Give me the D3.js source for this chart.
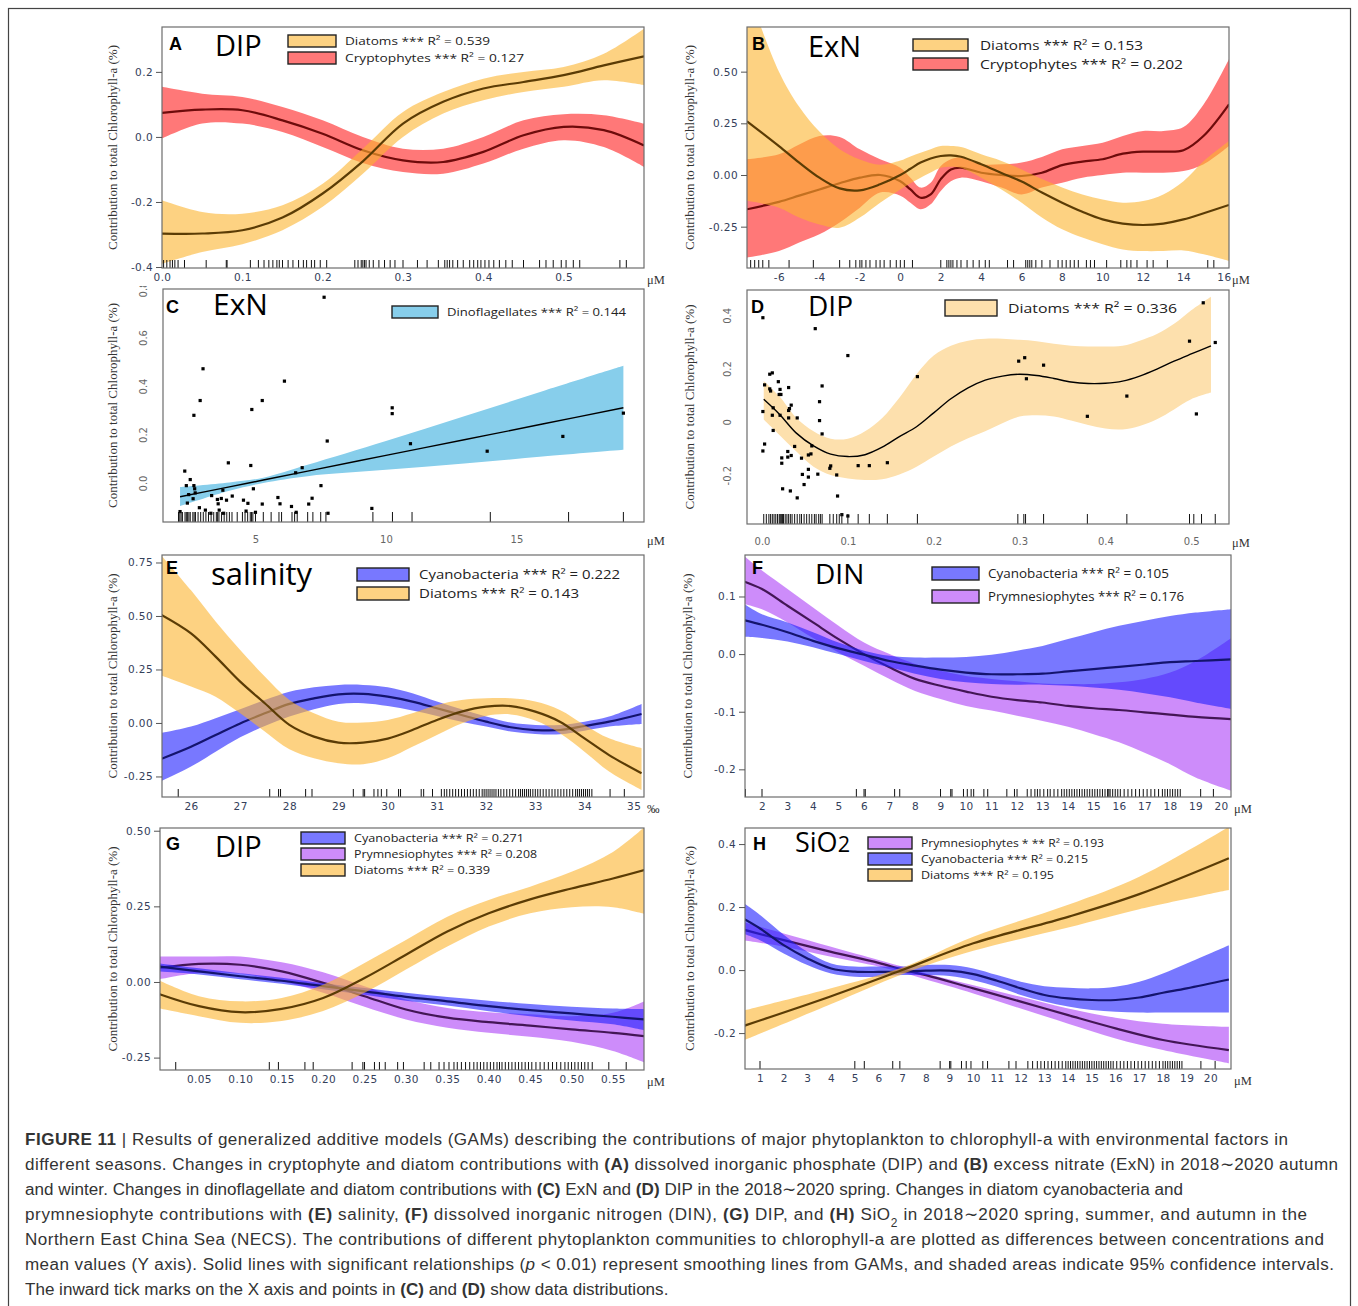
<!DOCTYPE html>
<html>
<head>
<meta charset="utf-8">
<script src="https://cdn.jsdelivr.net/npm/d3@7"></script>
<style>
  body { margin: 0; background: #fff; }
</style>
</head>
<body>
<svg id="fig" width="1358" height="1306"></svg>
<script>
// ---------------- data ----------------

// A : DIP, autumn + winter
var aX      = [0, 0.05, 0.1, 0.15, 0.2, 0.25, 0.3, 0.35, 0.4, 0.45, 0.5, 0.55, 0.6];
var aDiaFit = [-0.297,-0.297,-0.287,-0.248,-0.174,-0.075,0.041,0.108,0.149,0.169,0.19,0.22,0.248];
var aDiaHi  = [-0.195,-0.231,-0.236,-0.21,-0.144,-0.036,0.077,0.138,0.179,0.2,0.215,0.256,0.333];
var aDiaLo  = [-0.39,-0.354,-0.33,-0.287,-0.215,-0.113,0.0,0.072,0.113,0.138,0.154,0.174,0.159];
var aCryFit = [0.074,0.084,0.082,0.051,0.01,-0.041,-0.072,-0.077,-0.046,0.005,0.031,0.021,-0.026];
var aCryHi  = [0.154,0.133,0.123,0.092,0.051,0.0,-0.036,-0.036,0.0,0.051,0.07,0.067,0.041];
var aCryLo  = [-0.005,0.041,0.041,0.015,-0.031,-0.08,-0.108,-0.113,-0.082,-0.036,-0.01,-0.031,-0.092];
var aRug = [0.002,0.006,0.01,0.013,0.016,0.02,0.028,0.055,0.08,0.081,0.11,0.12,0.127,0.133,0.138,0.143,0.146,0.15,
  0.157,0.163,0.17,0.176,0.18,0.186,0.19,0.197,0.205,0.24,0.244,0.248,0.25,0.252,0.254,0.258,0.263,0.27,0.277,0.284,
  0.29,0.3,0.318,0.33,0.344,0.352,0.355,0.358,0.362,0.368,0.375,0.383,0.388,0.393,0.397,0.402,0.407,0.413,0.42,0.428,
  0.436,0.45,0.47,0.478,0.487,0.497,0.503,0.512,0.52,0.57,0.578];
var aLegend = ["Diatoms *** R\u00b2 = 0.539", "Cryptophytes ***  R\u00b2 = 0.127"];

// B : ExN, autumn + winter
var bX      = [-7.58,-6,-5,-4,-3,-2,-1,0,0.5,1,1.5,2,2.5,3,4,5,6,7,8,9,10,11,12,13,14,15,16.25];
var bDiaFit = [0.26,0.14,0.06,-0.013,-0.065,-0.074,-0.045,0.0,0.03,0.06,0.08,0.092,0.095,0.088,0.052,0.01,-0.032,-0.085,-0.134,-0.178,-0.215,-0.235,-0.242,-0.235,-0.215,-0.185,-0.145];
var bDiaHi  = [0.9,0.5,0.33,0.21,0.125,0.075,0.05,0.07,0.09,0.108,0.125,0.14,0.14,0.135,0.1,0.068,0.027,-0.02,-0.06,-0.094,-0.118,-0.134,-0.126,-0.094,-0.03,0.068,0.165];
var bDiaLo  = [-0.125,-0.158,-0.206,-0.24,-0.255,-0.206,-0.134,-0.07,-0.04,-0.013,0.012,0.035,0.04,0.035,-0.013,-0.07,-0.134,-0.206,-0.263,-0.303,-0.335,-0.36,-0.368,-0.368,-0.365,-0.384,-0.416];
var bCryFit = [-0.166,-0.13,-0.1,-0.07,-0.04,-0.013,0.0,-0.03,-0.07,-0.11,-0.094,-0.02,0.027,0.035,0.011,0.0,-0.005,0.011,0.048,0.065,0.076,0.103,0.113,0.113,0.12,0.19,0.342];
var bCryHi  = [0.076,0.1,0.148,0.189,0.184,0.124,0.076,0.035,-0.013,-0.061,-0.037,0.044,0.076,0.084,0.052,0.052,0.06,0.087,0.124,0.14,0.156,0.189,0.213,0.213,0.232,0.342,0.56];
var bCryLo  = [-0.4,-0.368,-0.327,-0.287,-0.23,-0.158,-0.085,-0.1,-0.134,-0.166,-0.142,-0.077,-0.03,-0.013,-0.03,-0.061,-0.094,-0.061,-0.037,-0.013,0.0,0.011,0.011,0.011,0.019,0.052,0.14];
var bRug = [-7.4,-7.2,-7.0,-6.8,-6.5,-5.5,-4.3,-3.0,-2.5,-2.2,-2.0,-1.9,-1.7,-1.5,-1.2,-1.0,-0.8,-0.5,-0.2,0.0,0.2,0.6,
  2.0,2.3,2.4,2.5,2.6,2.8,3.0,3.3,3.6,3.9,4.2,4.4,5.3,5.6,6.2,6.3,6.4,6.5,6.7,7.0,7.4,7.8,8.0,8.2,8.4,8.6,8.8,9.2,
  9.4,9.6,10.2,10.9,11.2,11.4,11.7,12.2,12.5,13.2,15.2,15.5];
var bLegend = ["Diatoms *** R\u00b2 = 0.153", "Cryptophytes ***  R\u00b2 = 0.202"];

// C : ExN, spring (linear fit + points)
var cX   = [2.11, 4, 5.3, 7, 10, 13, 16, 19.1];
var cFit = [-0.057,-0.016,0.012,0.049,0.114,0.178,0.243,0.31];
var cHi  = [-0.017,0.002,0.022,0.075,0.173,0.275,0.378,0.483];
var cLo  = [-0.095,-0.032,0.0,0.028,0.054,0.08,0.109,0.137];
var cPtX = [7.63,2.99,6.11,2.88,5.26,4.86,2.64,10.24,10.24,19.1,7.75,10.94,16.78,13.88,3.96,4.82,6.79,6.54,2.29,2.5,
  2.35,2.64,2.67,7.51,4.92,3.75,2.69,2.44,2.61,3.32,3.54,3.69,3.89,4.11,2.39,4.54,4.71,5.86,5.94,6.38,7.04,7.17,5.26,
  3.57,2.85,3.08,3.61,4.64,5.0,9.46,6.56,7.78,2.11,3.29,3.78];
var cPtY = [0.766,0.471,0.42,0.34,0.34,0.303,0.279,0.31,0.286,0.288,0.173,0.162,0.192,0.131,0.083,0.072,0.063,0.042,
  0.049,0.014,-0.011,-0.011,-0.024,-0.011,-0.024,-0.03,-0.041,-0.048,-0.065,-0.052,-0.068,-0.064,-0.071,-0.054,-0.083,
  -0.071,-0.084,-0.06,-0.086,-0.097,-0.087,-0.063,-0.087,-0.086,-0.102,-0.112,-0.112,-0.116,-0.121,-0.105,-0.121,
  -0.125,-0.118,-0.125,-0.125];
var cRug = [2.05,2.1,2.15,2.2,2.3,2.35,2.4,2.45,2.5,2.6,2.65,2.7,2.8,2.9,3.0,3.1,3.2,3.3,3.4,3.5,3.55,3.6,3.7,3.8,3.9,
  4.0,4.1,4.3,4.5,4.6,4.7,4.8,4.85,4.9,5.0,5.3,5.6,5.9,6.0,6.4,6.5,6.6,7.0,7.2,7.5,7.7,9.5,10.25,11.0,14.0,17.0,19.1];
var cLegend = ["Dinoflagellates *** R\u00b2 = 0.144"];

// D : DIP, spring (smooth + points)
var dX   = [0.002,0.02,0.04,0.06,0.08,0.1,0.12,0.14,0.16,0.18,0.2,0.22,0.24,0.26,0.28,0.3,0.32,0.34,0.36,0.38,0.4,0.42,0.44,0.46,0.48,0.5,0.523];
var dFit = [0.085,0.03,-0.042,-0.09,-0.121,-0.13,-0.123,-0.095,-0.055,-0.018,0.034,0.087,0.128,0.157,0.172,0.179,0.174,0.163,0.15,0.144,0.145,0.153,0.172,0.198,0.228,0.255,0.285];
var dHi  = [0.154,0.097,0.015,-0.035,-0.063,-0.063,-0.035,0.015,0.091,0.179,0.249,0.286,0.305,0.312,0.312,0.308,0.303,0.293,0.286,0.283,0.283,0.286,0.305,0.33,0.368,0.419,0.47];
var dLo  = [0.009,-0.048,-0.111,-0.168,-0.199,-0.212,-0.218,-0.215,-0.197,-0.168,-0.13,-0.092,-0.061,-0.035,-0.005,0.02,0.025,0.02,0.005,-0.012,-0.025,-0.028,-0.015,0.01,0.047,0.085,0.11];
var dPtX = [0.001,0.062,0.1,0.181,0.299,0.306,0.308,0.328,0.379,0.425,0.498,0.514,0.506,0.528,0.003,0.001,0.001,0.003,
  0.009,0.009,0.012,0.01,0.013,0.012,0.013,0.019,0.021,0.02,0.022,0.021,0.023,0.023,0.024,0.03,0.031,0.031,0.032,0.031,
  0.03,0.034,0.034,0.033,0.038,0.041,0.041,0.046,0.047,0.049,0.054,0.054,0.054,0.058,0.057,0.065,0.067,0.067,0.07,0.07,
  0.079,0.08,0.087,0.088,0.093,0.1,0.112,0.125,0.146];
var dPtY = [0.391,0.35,0.249,0.17,0.228,0.241,0.162,0.213,0.021,0.097,0.303,0.447,0.03,0.298,0.139,0.039,-0.109,-0.083,
  0.124,0.179,0.184,0.116,0.053,0.025,-0.032,0.151,0.122,0.103,0.103,0.025,-0.135,-0.155,-0.251,-0.132,0.129,0.043,0.05,
  0.015,-0.111,0.063,-0.126,-0.259,-0.092,0.015,-0.285,-0.136,-0.197,-0.235,-0.124,-0.178,-0.207,-0.09,-0.12,-0.196,
  0.076,0.005,0.135,-0.045,-0.174,-0.165,-0.199,-0.278,-0.348,-0.353,-0.164,-0.164,-0.153];
var dRug = [0.002,0.005,0.008,0.01,0.012,0.014,0.016,0.018,0.02,0.021,0.022,0.023,0.024,0.025,0.027,0.029,0.031,0.033,
  0.035,0.038,0.041,0.044,0.046,0.049,0.052,0.055,0.058,0.061,0.063,0.066,0.068,0.07,0.079,0.083,0.087,0.09,0.093,0.1,
  0.112,0.125,0.146,0.181,0.298,0.305,0.307,0.328,0.379,0.425,0.498,0.503,0.512,0.528];
var dLegend = ["Diatoms *** R\u00b2 = 0.336"];

// E : salinity
var eX      = [25.37,26,26.5,27,27.5,28,28.5,29,29.5,30,30.5,31,31.5,32,32.5,33,33.5,34,34.5,35.16];
var eDiaFit = [0.509,0.419,0.31,0.193,0.092,-0.009,-0.064,-0.092,-0.092,-0.073,-0.033,0.014,0.053,0.076,0.079,0.053,0.006,-0.072,-0.15,-0.235];
var eDiaHi  = [0.79,0.62,0.474,0.341,0.217,0.107,0.045,0.006,0.002,0.014,0.045,0.084,0.107,0.115,0.115,0.1,0.061,-0.009,-0.072,-0.118];
var eDiaLo  = [0.224,0.17,0.123,0.045,-0.04,-0.123,-0.165,-0.188,-0.193,-0.165,-0.111,-0.056,-0.002,0.033,0.04,0.011,-0.048,-0.134,-0.227,-0.313];
var eCyaFit = [-0.17,-0.111,-0.056,-0.002,0.045,0.089,0.115,0.134,0.136,0.123,0.1,0.069,0.037,0.006,-0.02,-0.033,-0.033,-0.014,0.006,0.042];
var eCyaHi  = [-0.048,-0.017,0.022,0.064,0.107,0.146,0.167,0.178,0.178,0.167,0.139,0.1,0.064,0.03,0.002,-0.009,-0.009,0.006,0.03,0.089];
var eCyaLo  = [-0.274,-0.204,-0.134,-0.067,-0.014,0.03,0.064,0.089,0.092,0.079,0.058,0.033,0.006,-0.017,-0.04,-0.051,-0.053,-0.036,-0.017,-0.005];
var eRug = [25.74,27.6,27.78,27.82,28.33,28.46,29.3,29.5,29.53,29.72,29.8,29.87,29.98,30.22,30.26,30.68,30.73,30.91,
  31.09,31.15,31.2,31.26,31.32,31.38,31.44,31.5,31.56,31.62,31.68,31.74,31.8,31.86,31.92,31.96,32.0,32.04,32.08,32.12,
  32.16,32.2,32.25,32.3,32.36,32.42,32.48,32.54,32.6,32.66,32.7,32.74,32.78,32.82,32.86,32.9,32.95,33.0,33.05,33.1,
  33.16,33.22,33.28,33.34,33.4,33.46,33.52,33.58,33.64,33.7,33.76,33.82,33.86,33.9,33.94,33.98,34.02,34.06,34.1,34.15,
  34.52,34.81];
var eLegend = ["Cyanobacteria ***  R\u00b2 = 0.222", "Diatoms ***  R\u00b2 = 0.143"];

// F : DIN
var fX      = [1.3,2,3,4,5,6,7,8,9,10,11,12,13,14,15,16,17,18,19,20.4];
var fCyaFit = [0.059,0.051,0.038,0.023,0.01,-0.001,-0.012,-0.02,-0.027,-0.032,-0.035,-0.035,-0.034,-0.03,-0.026,-0.022,-0.018,-0.014,-0.012,-0.009];
var fCyaHi  = [0.087,0.069,0.055,0.038,0.02,0.006,-0.003,-0.006,-0.006,-0.005,-0.001,0.006,0.014,0.026,0.038,0.049,0.058,0.066,0.072,0.078];
var fCyaLo  = [0.03,0.028,0.022,0.012,0.0,-0.012,-0.023,-0.034,-0.043,-0.049,-0.052,-0.053,-0.053,-0.055,-0.058,-0.062,-0.068,-0.075,-0.084,-0.095];
var fPryFit = [0.126,0.113,0.084,0.055,0.026,0.0,-0.023,-0.043,-0.055,-0.065,-0.074,-0.08,-0.084,-0.09,-0.094,-0.097,-0.101,-0.105,-0.109,-0.113];
var fPryHi  = [0.17,0.145,0.113,0.081,0.049,0.02,0.0,-0.017,-0.029,-0.038,-0.043,-0.047,-0.051,-0.052,-0.052,-0.049,-0.043,-0.032,-0.012,0.028];
var fPryLo  = [0.087,0.078,0.055,0.028,0.003,-0.02,-0.043,-0.064,-0.078,-0.09,-0.098,-0.107,-0.116,-0.126,-0.139,-0.153,-0.171,-0.191,-0.214,-0.237];
var fRug = [1.35,2.0,5.7,6.0,6.05,7.2,7.4,9.0,9.4,9.45,9.9,10.05,10.2,10.3,10.7,10.85,11.6,11.9,12.0,12.4,12.55,12.7,
  12.8,12.9,13.05,13.2,13.3,13.45,13.6,13.75,13.85,13.95,14.05,14.15,14.25,14.35,14.45,14.55,14.65,14.75,14.85,14.95,
  15.05,15.15,15.25,15.35,15.45,15.55,15.6,15.65,15.75,15.85,15.95,16.05,16.2,16.35,16.5,16.65,16.8,16.95,17.1,17.25,
  17.4,17.55,17.7,17.8,17.9,18.0,18.1,18.2,18.3,18.4,19.2,19.7];
var fLegend = ["Cyanobacteria ***  R\u00b2 = 0.105", "Prymnesiophytes *** R\u00b2 = 0.176"];

// G : DIP, spring-summer-autumn
var gX      = [0,0.05,0.1,0.15,0.2,0.25,0.3,0.35,0.4,0.45,0.5,0.55,0.588];
var gDiaFit = [-0.038,-0.08,-0.1,-0.089,-0.053,0.013,0.09,0.167,0.227,0.273,0.309,0.342,0.37];
var gDiaHi  = [0.008,-0.047,-0.064,-0.053,-0.009,0.063,0.139,0.216,0.271,0.315,0.364,0.43,0.512];
var gDiaLo  = [-0.086,-0.113,-0.135,-0.129,-0.096,-0.036,0.041,0.117,0.183,0.227,0.247,0.247,0.225];
var gCyaFit = [0.052,0.035,0.019,0.004,-0.014,-0.031,-0.049,-0.064,-0.08,-0.093,-0.104,-0.115,-0.124];
var gCyaHi  = [0.062,0.045,0.029,0.014,-0.004,-0.02,-0.036,-0.05,-0.062,-0.073,-0.082,-0.088,-0.09];
var gCyaLo  = [0.035,0.025,0.009,-0.006,-0.024,-0.042,-0.062,-0.078,-0.097,-0.113,-0.127,-0.14,-0.16];
var gPryFit = [0.046,0.06,0.057,0.035,-0.003,-0.047,-0.091,-0.118,-0.133,-0.144,-0.157,-0.168,-0.179];
var gPryHi  = [0.084,0.084,0.084,0.065,0.032,-0.014,-0.058,-0.086,-0.1,-0.107,-0.113,-0.102,-0.064];
var gPryLo  = [0.008,0.03,0.027,0.002,-0.036,-0.082,-0.124,-0.151,-0.168,-0.181,-0.198,-0.228,-0.266];
var gRug = [0.022,0.135,0.146,0.178,0.188,0.235,0.248,0.25,0.262,0.268,0.275,0.29,0.297,0.322,0.33,0.34,0.346,0.352,
  0.358,0.362,0.367,0.372,0.377,0.382,0.386,0.39,0.394,0.398,0.402,0.406,0.41,0.413,0.416,0.42,0.424,0.428,0.432,0.436,
  0.44,0.444,0.448,0.452,0.457,0.462,0.467,0.472,0.477,0.482,0.487,0.492,0.496,0.5,0.504,0.508,0.512,0.516,0.52,0.525,
  0.545,0.566];
var gLegend = ["Cyanobacteria ***  R\u00b2 = 0.271", "Prymnesiophytes *** R\u00b2 = 0.208", "Diatoms ***  R\u00b2 = 0.339"];

// H : SiO2
var hDiaX   = [0.28,4,7,10,14,17,20.78];
var hDiaFit = [-0.178,-0.083,0.0,0.085,0.169,0.241,0.355];
var hDiaHi  = [-0.129,-0.058,0.008,0.106,0.207,0.296,0.455];
var hDiaLo  = [-0.224,-0.108,-0.013,0.061,0.135,0.193,0.254];
var hCyaX   = [0.28,1,2,3,4,5,6,7,8,9,10,11,12,13,14,15,16,17,18,19,20.78];
var hCyaFit = [0.164,0.132,0.079,0.037,0.005,-0.005,-0.006,-0.005,-0.002,-0.002,-0.013,-0.034,-0.058,-0.079,-0.09,-0.095,-0.095,-0.087,-0.072,-0.058,-0.03];
var hCyaHi  = [0.214,0.175,0.112,0.058,0.021,0.011,0.011,0.011,0.016,0.016,0.005,-0.016,-0.037,-0.051,-0.056,-0.058,-0.053,-0.037,-0.011,0.021,0.079];
var hCyaLo  = [0.116,0.095,0.053,0.016,-0.011,-0.021,-0.021,-0.016,-0.016,-0.019,-0.032,-0.053,-0.079,-0.1,-0.116,-0.127,-0.132,-0.135,-0.135,-0.135,-0.135];
var hPryX   = [0.28,2,4,6,7,8,10,12,14,16,18,20.78];
var hPryFit = [0.129,0.095,0.058,0.023,0.002,-0.016,-0.058,-0.1,-0.143,-0.185,-0.222,-0.254];
var hPryHi  = [0.153,0.116,0.074,0.032,0.011,-0.011,-0.048,-0.085,-0.122,-0.151,-0.17,-0.18];
var hPryLo  = [0.095,0.074,0.042,0.011,-0.008,-0.03,-0.074,-0.122,-0.17,-0.217,-0.254,-0.296];
var hRug = [1.0,5.0,5.4,6.6,6.9,8.6,9.0,9.05,9.5,9.7,9.9,10.4,10.6,11.5,11.8,12.3,12.5,12.7,12.85,13.0,13.15,13.3,13.45,
  13.6,13.75,13.9,14.0,14.1,14.2,14.3,14.4,14.5,14.6,14.7,14.8,14.9,15.0,15.1,15.2,15.3,15.4,15.5,15.6,15.7,15.8,15.9,
  16.05,16.2,16.35,16.5,16.65,16.8,16.95,17.1,17.25,17.4,17.55,17.7,17.85,18.0,18.1,18.2,18.3,18.4,18.5,18.6,18.7,18.8,
  19.6,20.2];
var hLegend = ["Prymnesiophytes * ** R\u00b2 = 0.193", "Cyanobacteria ***  R\u00b2 = 0.215", "Diatoms ***  R\u00b2 = 0.195"];

// axis ticks
var aXTicks = [0,0.1,0.2,0.3,0.4,0.5],  aYTicks = [-0.4,-0.2,0,0.2];
var bXTicks = [-6,-4,-2,0,2,4,6,8,10,12,14,16], bYTicks = [-0.25,0,0.25,0.5];
var cXTicks = [5,10,15], cYTicks = [0,0.2,0.4,0.6,0.8];
var dXTicks = [0,0.1,0.2,0.3,0.4,0.5], dYTicks = [-0.2,0,0.2,0.4];
var eXTicks = [26,27,28,29,30,31,32,33,34,35], eYTicks = [-0.25,0,0.25,0.5,0.75];
var fXTicks = [2,3,4,5,6,7,8,9,10,11,12,13,14,15,16,17,18,19,20], fYTicks = [-0.2,-0.1,0,0.1];
var gXTicks = [0.05,0.1,0.15,0.2,0.25,0.3,0.35,0.4,0.45,0.5,0.55], gYTicks = [-0.25,0,0.25,0.5];
var hXTicks = [1,2,3,4,5,6,7,8,9,10,11,12,13,14,15,16,17,18,19,20], hYTicks = [-0.2,0,0.2,0.4];

var yTitle = "Contribution to total Chlorophyll-a (%)";

var captionLines = [
  [["FIGURE 11","b"],[" | Results of generalized additive models (GAMs) describing the contributions of major phytoplankton to chlorophyll-a with environmental factors in",""]],
  [["different seasons. Changes in cryptophyte and diatom contributions with ",""],["(A)","b"],[" dissolved inorganic phosphate (DIP) and ",""],["(B)","b"],[" excess nitrate (ExN) in 2018\u223c2020 autumn",""]],
  [["and winter. Changes in dinoflagellate and diatom contributions with ",""],["(C)","b"],[" ExN and ",""],["(D)","b"],[" DIP in the 2018\u223c2020 spring. Changes in diatom cyanobacteria and",""]],
  [["prymnesiophyte contributions with ",""],["(E)","b"],[" salinity, ",""],["(F)","b"],[" dissolved inorganic nitrogen (DIN), ",""],["(G)","b"],[" DIP, and ",""],["(H)","b"],[" SiO",""],["2","sub"],[" in 2018\u223c2020 spring, summer, and autumn in the",""]],
  [["Northern East China Sea (NECS). The contributions of different phytoplankton communities to chlorophyll-a are plotted as differences between concentrations and",""]],
  [["mean values (Y axis). Solid lines with significant relationships (",""],["p","i"],[" < 0.01) represent smoothing lines from GAMs, and shaded areas indicate 95% confidence intervals.",""]],
  [["The inward tick marks on the X axis and points in ",""],["(C)","b"],[" and ",""],["(D)","b"],[" show data distributions.",""]]
];
var captionEnds = [1288, 1338, 1183, 1307, 1324, 1334, 708];

// ---------------- styles ----------------
var fills = {
  dia:  {c: "rgb(252,180,47)",  o: 0.6, line: "#5b3c05"},
  cry:  {c: "rgb(255,30,30)",   o: 0.6, line: "#6e0b0b"},
  cya:  {c: "rgb(30,30,255)",   o: 0.6, line: "#14146e"},
  pry:  {c: "rgb(172,63,247)",  o: 0.6, line: "#431655"},
  dino: {c: "#87ceeb",          o: 1,   line: "#000"},
  diaD: {c: "#fde0ad",          o: 1,   line: "#000"}
};
var tickFont = "'DejaVu Sans', sans-serif";
var legendFont = "'Open Sans', sans-serif";
var serifFont = "'Liberation Serif', 'Times New Roman', serif";
var capFont = "'Liberation Sans', Arial, sans-serif";

function fmt(p) {
  var f = d3.format(p);
  return function(d) { return f(d).replace("\u2212", "-"); };
}
var fmtD = function(d) { return d === 0 ? "0" : fmt(".1f")(d); };

var panels = [
  {key:"A", box:[162,27,644,268], xd:[0,0.6], yd:[-0.403,0.338], xt:aXTicks, xf:fmt(".1f"), yt:aYTicks, yf:fmt(".1f"),
   unit:"\u03bcM", series:[{k:"cry",x:aX,fit:aCryFit,lo:aCryLo,hi:aCryHi},{k:"dia",x:aX,fit:aDiaFit,lo:aDiaLo,hi:aDiaHi}],
   rug:aRug, legend:{items:["dia","cry"], text:aLegend, tw:[145,179], x:288, y:35, w:48, h:12, step:17, tx:345, fs:11.5},
   letter:[169,50], name:"DIP", nameAt:[215,56], nameFs:29, titleX:117},
  {key:"B", box:[747,27,1229,268], xd:[-7.58,16.25], yd:[-0.45,0.716], xt:bXTicks, xf:fmt("d"), yt:bYTicks, yf:fmt(".2f"),
   unit:"\u03bcM", series:[{k:"cry",x:bX,fit:bCryFit,lo:bCryLo,hi:bCryHi},{k:"dia",x:bX,fit:bDiaFit,lo:bDiaLo,hi:bDiaHi}],
   rug:bRug, legend:{items:["dia","cry"], text:bLegend, tw:[163,203], x:913, y:39, w:55, h:12, step:19, tx:980, fs:12.5},
   letter:[752,50], name:"ExN", nameAt:[808,57], nameFs:29, titleX:694},
  {key:"C", base:true, box:[163,289,644,522], xd:[1.456,19.89], yd:[-0.161,0.8], xt:cXTicks, xf:fmt("d"), yt:cYTicks, yf:fmt(".1f"),
   unit:"\u03bcM", series:[{k:"dino",x:cX,fit:cFit,lo:cLo,hi:cHi}], points:[cPtX,cPtY],
   rug:cRug, legend:{items:["dino"], text:cLegend, tw:[179], x:392, y:306, w:46, h:12, step:0, tx:447, fs:11.5},
   letter:[166,313], name:"ExN", nameAt:[213,315], nameFs:30, titleX:117},
  {key:"D", base:true, box:[747,290,1229,524], xd:[-0.0175,0.544], yd:[-0.383,0.495], xt:dXTicks, xf:fmt(".1f"), yt:dYTicks, yf:fmtD,
   unit:"\u03bcM", series:[{k:"diaD",x:dX,fit:dFit,lo:dLo,hi:dHi}], points:[dPtX,dPtY],
   rug:dRug, legend:{items:["diaD"], text:dLegend, tw:[169], x:945, y:300, w:52, h:16, step:0, tx:1008, fs:13.5},
   letter:[751,313], name:"DIP", nameAt:[808,316], nameFs:28, titleX:694},
  {key:"E", box:[162,555,644,797], xd:[25.41,35.21], yd:[-0.346,0.785], xt:eXTicks, xf:fmt("d"), yt:eYTicks, yf:fmt(".2f"),
   unit:"\u2030", series:[{k:"cya",x:eX,fit:eCyaFit,lo:eCyaLo,hi:eCyaHi},{k:"dia",x:eX,fit:eDiaFit,lo:eDiaLo,hi:eDiaHi}],
   rug:eRug, legend:{items:["cya","dia"], text:eLegend, tw:[201,160], x:357, y:568, w:52, h:13, step:19, tx:419, fs:12.5},
   letter:[166,574], name:"salinity", nameAt:[211,585], nameFs:31, titleX:117},
  {key:"F", box:[745,555,1231,797], xd:[1.333,20.39], yd:[-0.248,0.172], xt:fXTicks, xf:fmt("d"), yt:fYTicks, yf:fmt(".1f"),
   unit:"\u03bcM", series:[{k:"pry",x:fX,fit:fPryFit,lo:fPryLo,hi:fPryHi},{k:"cya",x:fX,fit:fCyaFit,lo:fCyaLo,hi:fCyaHi}],
   rug:fRug, legend:{items:["cya","pry"], text:fLegend, tw:[181,196], x:932, y:567, w:47, h:13, step:23, tx:988, fs:12},
   letter:[752,574], name:"DIN", nameAt:[815,584], nameFs:28, titleX:692},
  {key:"G", box:[160,828,644,1070], xd:[0.003,0.5875], yd:[-0.291,0.509], xt:gXTicks, xf:fmt(".2f"), yt:gYTicks, yf:fmt(".2f"),
   unit:"\u03bcM", series:[{k:"pry",x:gX,fit:gPryFit,lo:gPryLo,hi:gPryHi},{k:"cya",x:gX,fit:gCyaFit,lo:gCyaLo,hi:gCyaHi},{k:"dia",x:gX,fit:gDiaFit,lo:gDiaLo,hi:gDiaHi}],
   rug:gRug, legend:{items:["cya","pry","dia"], text:gLegend, tw:[170,183,136], x:301, y:832, w:44, h:12, step:16, tx:354, fs:11},
   letter:[166,850], name:"DIP", nameAt:[215,857], nameFs:29, titleX:117},
  {key:"H", box:[745,828,1231,1069], xd:[0.367,20.87], yd:[-0.314,0.451], xt:hXTicks, xf:fmt("d"), yt:hYTicks, yf:fmt(".1f"),
   unit:"\u03bcM", series:[{k:"pry",x:hPryX,fit:hPryFit,lo:hPryLo,hi:hPryHi},{k:"cya",x:hCyaX,fit:hCyaFit,lo:hCyaLo,hi:hCyaHi},{k:"dia",x:hDiaX,fit:hDiaFit,lo:hDiaLo,hi:hDiaHi}],
   rug:hRug, legend:{items:["pry","cya","dia"], text:hLegend, tw:[183,167,133], x:868, y:837, w:44, h:12, step:16, tx:921, fs:11},
   letter:[753,850], name:"SiO", sub:"2", nameAt:[795,852], nameFs:27, titleX:694}
];

// ---------------- drawing ----------------
var svg = d3.select("#fig");
var defs = svg.append("defs");

svg.append("rect")
    .attr("x", 8.5).attr("y", 8.5)
    .attr("width", 1342).attr("height", 1320)
    .attr("fill", "none").attr("stroke", "#444").attr("stroke-width", 1.2);

function drawPanel(p) {
  var b = p.box;
  var x = d3.scaleLinear().domain(p.xd).range([b[0], b[2]]);
  var y = d3.scaleLinear().domain(p.yd).range([b[3], b[1]]);
  var g = svg.append("g").attr("class", "panel-" + p.key);

  defs.append("clipPath").attr("id", "clip" + p.key)
    .append("rect").attr("x", b[0]).attr("y", b[1]).attr("width", b[2] - b[0]).attr("height", b[3] - b[1]);

  var plot = g.append("g").attr("clip-path", "url(#clip" + p.key + ")");
  var curve = d3.curveCatmullRom.alpha(0.5);

  p.series.forEach(function(s) {
    var st = fills[s.k];
    var rows = s.x.map(function(v, i) { return {x: v, fit: s.fit[i], lo: s.lo[i], hi: s.hi[i]}; });
    var area = d3.area()
        .x(function(d) { return x(d.x); })
        .y0(function(d) { return y(d.lo); })
        .y1(function(d) { return y(d.hi); })
        .curve(curve);
    var line = d3.line()
        .x(function(d) { return x(d.x); })
        .y(function(d) { return y(d.fit); })
        .curve(curve);
    plot.append("path").datum(rows)
        .attr("d", area)
        .attr("fill", st.c).attr("fill-opacity", st.o);
    plot.append("path").datum(rows)
        .attr("d", line)
        .attr("fill", "none")
        .attr("stroke", st.line)
        .attr("stroke-width", p.base ? 1.4 : 2.2);
  });

  if (p.points) {
    var pts = p.points[0].map(function(v, i) { return [v, p.points[1][i]]; });
    plot.selectAll(".pt").data(pts).enter().append("rect")
        .attr("x", function(d) { return x(d[0]) - 1.6; })
        .attr("y", function(d) { return y(d[1]) - 1.6; })
        .attr("width", 3.2).attr("height", 3.2)
        .attr("fill", "#000");
  }

  // rug: inward ticks on the x axis
  var rugLen = p.base ? 10 : 8;
  plot.selectAll(".rug").data(p.rug).enter().append("line")
      .attr("x1", function(d) { return x(d); })
      .attr("x2", function(d) { return x(d); })
      .attr("y1", b[3])
      .attr("y2", b[3] - rugLen)
      .attr("stroke", "#111").attr("stroke-width", 1);

  g.append("rect")
      .attr("x", b[0]).attr("y", b[1])
      .attr("width", b[2] - b[0]).attr("height", b[3] - b[1])
      .attr("fill", "none").attr("stroke", "#6d6d6d").attr("stroke-width", 1.2);

  // axes
  var labCol = p.base ? "#666" : "#34405a";
  var xa = g.append("g")
      .attr("transform", "translate(0," + b[3] + ")")
      .call(d3.axisBottom(x).tickValues(p.xt).tickFormat(p.xf).tickSize(0).tickPadding(p.base ? 14 : 6));
  xa.select(".domain").remove();
  xa.selectAll("text")
      .attr("fill", labCol)
      .style("font-family", tickFont)
      .style("font-size", p.base ? "10px" : "10.5px")
      .style("letter-spacing", p.base ? "0" : "0.4px");

  var ya = g.append("g")
      .attr("transform", "translate(" + b[0] + ",0)")
      .call(d3.axisLeft(y).tickValues(p.yt).tickFormat(p.yf).tickSize(p.base ? 0 : 6).tickPadding(3));
  ya.select(".domain").remove();
  ya.selectAll("line").attr("stroke", "#555");
  ya.selectAll("text")
      .attr("fill", labCol)
      .style("font-family", tickFont)
      .style("font-size", p.base ? "10px" : "10.5px")
      .style("letter-spacing", p.base ? "0" : "0.4px");
  if (p.base) {
    ya.selectAll("text")
        .attr("x", 0).attr("y", -16).attr("dy", null)
        .attr("text-anchor", "middle")
        .attr("transform", "rotate(-90)");
    if (p.key === "C") {
      // the top label is cut by the panel above in the original
      defs.append("clipPath").attr("id", "clipCy")
        .append("rect").attr("x", -40).attr("y", 286).attr("width", 40).attr("height", 260);
      ya.attr("clip-path", "url(#clipCy)");
    }
  }

  // unit at the right end of the x labels
  g.append("text")
      .attr("x", b[2] + 3)
      .attr("y", b[3] + (p.base ? 23 : 16))
      .attr("fill", "#333")
      .style("font-family", serifFont)
      .style("font-size", "12.5px")
      .text(p.unit);

  // y title
  g.append("text")
      .attr("transform", "translate(" + p.titleX + "," + ((b[1] + b[3]) / 2) + ") rotate(-90)")
      .attr("text-anchor", "middle")
      .attr("fill", "#333")
      .attr("textLength", 205)
      .attr("lengthAdjust", "spacingAndGlyphs")
      .style("font-family", serifFont)
      .style("font-size", "13px")
      .text(yTitle);

  // panel letter and variable name
  g.append("text")
      .attr("x", p.letter[0]).attr("y", p.letter[1])
      .style("font-family", capFont)
      .style("font-weight", "bold")
      .style("font-size", "18px")
      .text(p.key);
  var nm = g.append("text")
      .attr("x", p.nameAt[0]).attr("y", p.nameAt[1])
      .style("font-family", legendFont)
      .style("font-size", p.nameFs + "px")
      .text(p.name);
  if (p.sub) nm.append("tspan").style("font-size", "0.8em").text(p.sub);

  // legend
  var L = p.legend;
  var lg = g.append("g");
  L.items.forEach(function(k, i) {
    var st = fills[k];
    var yy = L.y + i * L.step;
    lg.append("rect")
        .attr("x", L.x).attr("y", yy)
        .attr("width", L.w).attr("height", L.h)
        .attr("fill", st.c).attr("fill-opacity", st.o)
        .attr("stroke", "#222").attr("stroke-width", 1.4);
    lg.append("text")
        .attr("x", L.tx).attr("y", yy + L.h / 2)
        .attr("dy", "0.36em")
        .attr("fill", "#222")
        .attr("textLength", L.tw[i])
        .attr("lengthAdjust", "spacingAndGlyphs")
        .style("font-family", legendFont)
        .style("font-size", L.fs + "px")
        .text(L.text[i]);
  });
}

panels.forEach(drawPanel);

// caption: one font size small enough that no line is wider than its
// right end in the original, then every line but the last is justified
var capSize = 16;
var cap = svg.append("g").attr("fill", "#333");
var capTexts = captionLines.map(function(parts, i) {
  var t = cap.append("text")
      .attr("x", 25)
      .attr("y", 1145 + i * 25)
      .style("font-family", capFont)
      .style("font-size", capSize + "px");
  parts.forEach(function(pt) {
    var ts = t.append("tspan").text(pt[0]);
    if (pt[1] === "b") ts.style("font-weight", "bold");
    if (pt[1] === "i") ts.style("font-style", "italic");
    if (pt[1] === "sub") ts.attr("baseline-shift", "sub").style("font-size", "0.7em");
  });
  return t;
});
var scale = d3.min(capTexts, function(t, i) {
  return (captionEnds[i] - 25) / t.node().getComputedTextLength();
});
capSize = capSize * scale * 0.995;
capTexts.forEach(function(t, i) {
  t.style("font-size", capSize.toFixed(2) + "px");
  if (i < capTexts.length - 1) {
    t.attr("textLength", captionEnds[i] - 25).attr("lengthAdjust", "spacing");
  }
});
</script>
</body>
</html>
